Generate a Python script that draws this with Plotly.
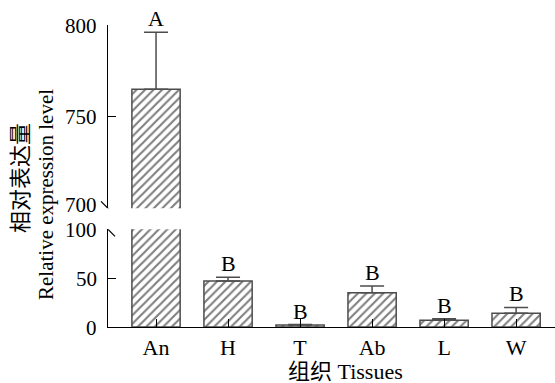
import plotly.graph_objects as go

# Relative expression of the gene across tissues
tissues = ["An", "H", "T", "Ab", "L", "W"]
expression = [765, 47, 2, 35, 7, 14]
error_up = [31, 4, 0.5, 7, 1.5, 6]
letters = ["A", "B", "B", "B", "B", "B"]

lower_ticks = [0, 50, 100]
upper_ticks = [700, 750, 800]
lower_range = [0, 100]
upper_range = [700, 800]

SERIF = "Liberation Serif, Noto Sans CJK SC"
LINE = "#4d4d4d"
FS = 22

fig = go.Figure()

bar_style = dict(
    marker=dict(
        color="white",
        line=dict(color=LINE, width=1.5),
        pattern=dict(shape="/", size=6, solidity=0.35, fgcolor="#000000", bgcolor="white"),
    ),
    width=0.67,
    cliponaxis=True,
    showlegend=False,
)

# lower segment: every bar, error bars only where the top falls inside 0-100
low_err = [e if v + e <= lower_range[1] else None for v, e in zip(expression, error_up)]
fig.add_trace(go.Bar(
    x=tissues, y=expression, yaxis="y", xaxis="x",
    error_y=dict(type="data", symmetric=False, array=low_err,
                 arrayminus=[0] * len(tissues), color=LINE, thickness=1.5, width=12),
    **bar_style,
))

# upper segment: only bars reaching above the break
up_idx = [i for i, v in enumerate(expression) if v > upper_range[0]]
fig.add_trace(go.Bar(
    x=[tissues[i] for i in up_idx], y=[expression[i] for i in up_idx],
    yaxis="y2", xaxis="x",
    error_y=dict(type="data", symmetric=False, array=[error_up[i] for i in up_idx],
                 arrayminus=[0] * len(up_idx), color=LINE, thickness=1.5, width=12),
    **bar_style,
))

# significance letters above the error bars
for t, v, e, lab in zip(tissues, expression, error_up, letters):
    fig.add_annotation(
        x=t, y=v + e, yref="y2" if v > upper_range[0] else "y", xref="x",
        text=lab, showarrow=False, yanchor="bottom", yshift=-1,
        font=dict(family=SERIF, size=FS, color="black"),
    )

# y tick labels for both axis segments, set a little away from the axis line;
# the two labels at the break are nudged apart so they don't collide
for yref, ticks in (("y", lower_ticks), ("y2", upper_ticks)):
    for tv in ticks:
        nudge = 3.5 if (yref == "y2" and tv == upper_range[0]) else 0
        fig.add_annotation(
            x=0, xref="paper", y=tv, yref=yref, text=str(tv), showarrow=False,
            xanchor="right", yanchor="middle", xshift=-10, yshift=nudge,
            height=19, borderpad=0,
            font=dict(family=SERIF, size=21, color="black"),
        )

# break marks on the y axis
for yref, yval in (("y2", upper_range[0]), ("y", lower_range[1])):
    fig.add_shape(
        type="line", xref="paper", yref=yref,
        xsizemode="pixel", xanchor=0, x0=-7, x1=7,
        ysizemode="pixel", yanchor=yval, y0=7, y1=-7,
        line=dict(color="black", width=1.2),
    )

axis_common = dict(
    showline=True, linecolor="black", linewidth=1.3,
    ticks="inside", ticklen=8, tickcolor="black", tickwidth=1.3,
    showgrid=False, zeroline=False,
    tickfont=dict(family=SERIF, size=FS, color="black"),
)

fig.update_layout(
    width=555, height=383,
    margin=dict(l=108, r=0, t=25, b=56),
    paper_bgcolor="white", plot_bgcolor="white",
    font=dict(family=SERIF, color="black"),
    xaxis=dict(range=[-0.667, 5.54], anchor="y", **axis_common),
    yaxis=dict(domain=[0, 0.3235], range=lower_range, tickvals=lower_ticks,
               showticklabels=False, **axis_common),
    yaxis2=dict(domain=[0.393, 1], range=upper_range, tickvals=upper_ticks, anchor="x",
                showticklabels=False, **axis_common),
    annotations=list(fig.layout.annotations) + [
        dict(text="相对表达量", textangle=-90, xref="paper", yref="paper", x=0, y=0.5,
             xanchor="center", yanchor="middle", xshift=-88, yshift=-2, showarrow=False,
             font=dict(family=SERIF, size=22, color="black")),
        dict(text="Relative expression level", textangle=-90, xref="paper", yref="paper",
             x=0, y=0.5, xanchor="center", yanchor="middle", xshift=-62, yshift=-19,
             showarrow=False, font=dict(family=SERIF, size=21, color="black")),
        dict(text="组织 Tissues", xref="paper", yref="paper", x=0.532, y=0,
             xanchor="center", yanchor="middle", yshift=-44, showarrow=False,
             font=dict(family=SERIF, size=FS, color="black")),
    ],
)

fig.write_html("out.html")
